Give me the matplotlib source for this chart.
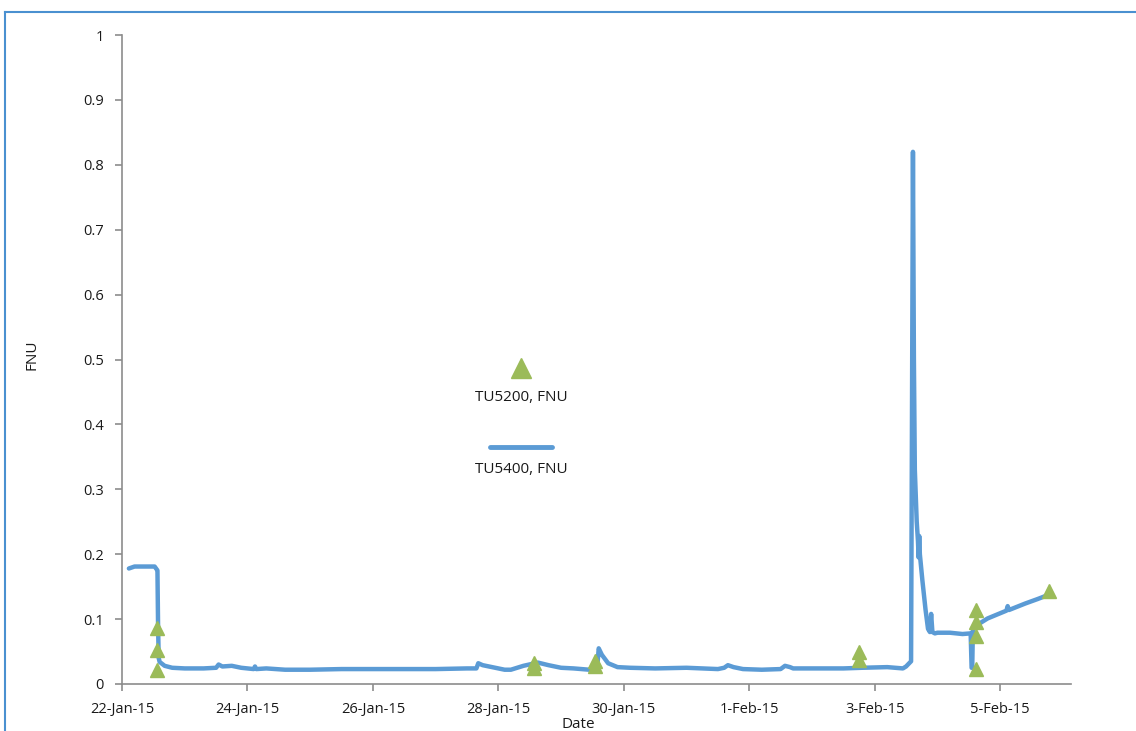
import numpy as np
import pandas as pd
import matplotlib
matplotlib.use('Agg')
import matplotlib.pyplot as plt
import matplotlib.dates as mdates
from matplotlib.lines import Line2D

plt.rcParams['font.family'] = ['Open Sans', 'DejaVu Sans']

start = pd.Timestamp('2015-01-22')

# TU5400 online turbidity, days after 22-Jan-15 00:00
tu5400_days = [0.11, 0.2, 0.35, 0.52, 0.55, 0.565, 0.575, 0.585, 0.6, 0.68, 0.8, 1.0, 1.3,
               1.5, 1.54, 1.6, 1.75, 1.9, 2.1, 2.12, 2.14, 2.3, 2.6, 3.0, 3.5, 4.0, 4.5,
               5.0, 5.5, 5.65, 5.68, 5.75, 5.9, 6.1, 6.2, 6.4, 6.63, 6.8, 7.0, 7.2, 7.45,
               7.52, 7.54, 7.58, 7.6, 7.65, 7.75, 7.9, 8.1, 8.5, 9.0, 9.5, 9.6, 9.66, 9.75,
               9.9, 10.2, 10.5, 10.57, 10.65, 10.7, 11.0, 11.5, 11.8, 12.2, 12.45, 12.5,
               12.55, 12.58, 12.61, 12.625, 12.64, 12.67, 12.69, 12.70, 12.71, 12.72,
               12.76, 12.81, 12.85, 12.88, 12.90, 12.92, 12.96, 13.0, 13.2, 13.4, 13.53,
               13.545, 13.555, 13.565, 13.6, 13.7, 13.8, 14.0, 14.1, 14.12, 14.14, 14.4,
               14.6, 14.76]
tu5400_fnu = [0.178, 0.181, 0.181, 0.181, 0.177, 0.175, 0.09, 0.04, 0.034, 0.028, 0.025,
              0.024, 0.024, 0.025, 0.030, 0.027, 0.028, 0.025, 0.023, 0.027, 0.023, 0.024,
              0.022, 0.022, 0.023, 0.023, 0.023, 0.023, 0.024, 0.024, 0.032, 0.029, 0.026,
              0.022, 0.022, 0.028, 0.033, 0.029, 0.025, 0.024, 0.022, 0.022, 0.028, 0.030,
              0.055, 0.045, 0.032, 0.026, 0.025, 0.024, 0.025, 0.023, 0.025, 0.029, 0.026,
              0.023, 0.022, 0.023, 0.028, 0.026, 0.024, 0.024, 0.024, 0.025, 0.026, 0.024,
              0.027, 0.032, 0.035, 0.82, 0.5, 0.33, 0.25, 0.22, 0.195, 0.228, 0.2, 0.16,
              0.115, 0.085, 0.08, 0.108, 0.08, 0.078, 0.079, 0.079, 0.077, 0.078, 0.025,
              0.025, 0.082, 0.088, 0.095, 0.101, 0.109, 0.113, 0.12, 0.114, 0.124, 0.131,
              0.137]

# TU5200 grab samples
tu5200_days = [0.56, 0.56, 0.56, 6.57, 6.57, 7.54, 7.54, 11.75, 11.75,
               13.61, 13.61, 13.61, 13.61, 14.78]
tu5200_fnu = [0.087, 0.053, 0.022, 0.032, 0.024, 0.036, 0.027, 0.049, 0.037,
              0.114, 0.096, 0.074, 0.023, 0.143]

x_end_days = 15.13

blue = '#5B9BD5'
green = '#9BBB59'

t54 = start + pd.to_timedelta(tu5400_days, unit='D')
t52 = start + pd.to_timedelta(tu5200_days, unit='D')

fig = plt.figure(figsize=(11.36, 7.31), dpi=100)
ax = fig.add_axes([0.1074, 0.0643, 0.8354, 0.8878])

ax.plot(t54, tu5400_fnu, color=blue, lw=3.2, solid_capstyle='round', zorder=2)
ax.plot(t52, tu5200_fnu, ls='none', marker='^', ms=9.5, color=green, mec=green, zorder=3)

ax.set_xlim(start, start + pd.Timedelta(days=x_end_days))
ax.set_ylim(0, 1)
ax.set_yticks(np.arange(0, 1.01, 0.1))
ax.set_yticklabels(['0', '0.1', '0.2', '0.3', '0.4', '0.5', '0.6', '0.7', '0.8', '0.9', '1'])
ax.set_xticks(pd.date_range(start, periods=8, freq='2D'))
ax.xaxis.set_major_formatter(mdates.DateFormatter('%-d-%b-%y'))

for s in ['top', 'right']:
    ax.spines[s].set_visible(False)
for s in ['left', 'bottom']:
    ax.spines[s].set_color('#8c8c8c')
    ax.spines[s].set_linewidth(1.2)
ax.tick_params(colors='#8c8c8c', labelcolor='#1a1a1a', labelsize=10.5, length=5, width=1.2)
ax.tick_params(axis='x', pad=8)
ax.tick_params(axis='y', pad=8)

ax.set_xlabel('Date', fontsize=11, color='#1a1a1a')
ax.xaxis.set_label_coords(0.4805, -0.051)
ax.set_ylabel('FNU', fontsize=11, color='#1a1a1a')
ax.yaxis.set_label_coords(-0.087, 0.507)

# legend in the middle, labels under their keys
ax.plot([0.4205], [0.487], transform=ax.transAxes, marker='^', ms=15, color=green,
        ls='none', clip_on=False)
ax.text(0.4205, 0.442, 'TU5200, FNU', transform=ax.transAxes, ha='center', va='center',
        fontsize=11, color='#1a1a1a')
ax.plot([0.388, 0.453], [0.365, 0.365], transform=ax.transAxes, color=blue, lw=3.5,
        solid_capstyle='round', clip_on=False)
ax.text(0.4205, 0.330, 'TU5400, FNU', transform=ax.transAxes, ha='center', va='center',
        fontsize=11, color='#1a1a1a')

# chart frame (partially visible)
fig.add_artist(Line2D([5 / 1136, 5 / 1136], [0, 1 - 12 / 731], color='#4a90d0', lw=1.5,
                      transform=fig.transFigure))
fig.add_artist(Line2D([5 / 1136, 1], [1 - 12 / 731, 1 - 12 / 731], color='#4a90d0', lw=1.5,
                      transform=fig.transFigure))

fig.savefig('out.png', dpi=100)
